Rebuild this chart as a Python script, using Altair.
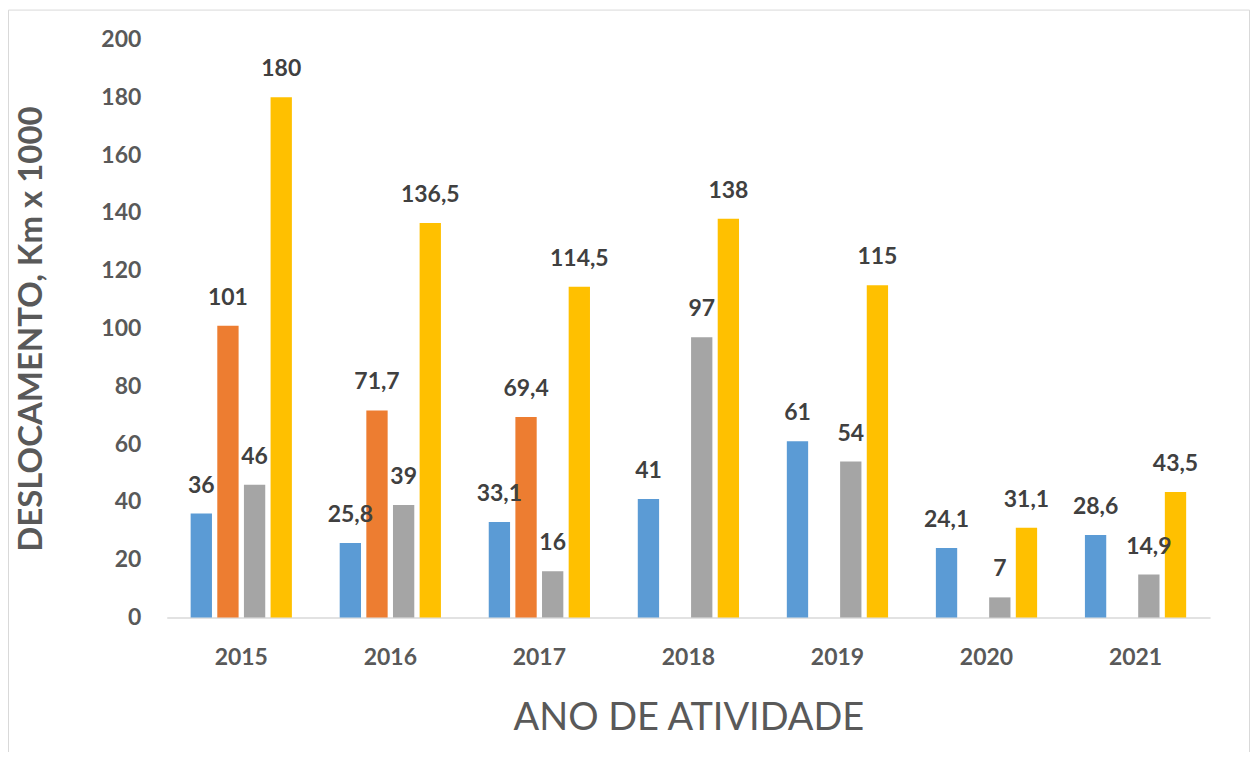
import altair as alt
import pandas as pd

years = ["2015", "2016", "2017", "2018", "2019", "2020", "2021"]
series_names = ["Série 1", "Série 2", "Série 3", "Série 4"]
s1 = [36, 25.8, 33.1, 41, 61, 24.1, 28.6]
s2 = [101, 71.7, 69.4, None, None, None, None]
s3 = [46, 39, 16, 97, 54, 7, 14.9]
s4 = [180, 136.5, 114.5, 138, 115, 31.1, 43.5]
colors = ["#5B9BD5", "#ED7D31", "#A5A5A5", "#FFC000"]

def fmt(v):
    if float(v).is_integer():
        return str(int(v))
    return str(v).replace(".", ",")

rows = []
for name, vals in zip(series_names, [s1, s2, s3, s4]):
    for y, v in zip(years, vals):
        if v is not None:
            rows.append({"ano": y, "serie": name, "valor": v, "rotulo": fmt(v)})
df = pd.DataFrame(rows)

W, H = 1045, 579
FONT = "Lato"

x_enc = alt.X("ano:N", sort=years, title="ANO DE ATIVIDADE",
              scale=alt.Scale(paddingInner=0.285, paddingOuter=0.1425),
              axis=alt.Axis(labelAngle=0, labelFont=FONT, labelFontSize=23,
                            labelFontWeight="bold", labelColor="#595959",
                            labelPadding=29, ticks=False, domainColor="#D9D9D9",
                            domainWidth=1.5, titleFont=FONT, titleFontSize=38,
                            titleFontWeight="normal", titleColor="#595959",
                            titlePadding=30))
xo_enc = alt.XOffset("serie:N", sort=series_names,
                     scale=alt.Scale(paddingInner=0.2, paddingOuter=0.1))
y_enc = alt.Y("valor:Q", title="DESLOCAMENTO, Km x 1000",
              scale=alt.Scale(domain=[0, 200], nice=False),
              axis=alt.Axis(values=list(range(0, 201, 20)), grid=False, ticks=False,
                            domain=False, labelFont=FONT, labelFontSize=23,
                            labelFontWeight="bold", labelColor="#595959",
                            labelPadding=26, titleFont=FONT, titleFontSize=33,
                            titleFontWeight="bold", titleColor="#595959",
                            titlePadding=52))

border = alt.Chart(pd.DataFrame({"a": [0]})).mark_rect(
    fill=None, stroke="#D9D9D9", strokeWidth=1
).encode(x=alt.value(-158.5), x2=alt.value(W + 39.5),
         y=alt.value(-29.5), y2=alt.value(H + 300))

bars = alt.Chart(df).mark_bar().encode(
    x=x_enc, xOffset=xo_enc, y=y_enc,
    color=alt.Color("serie:N", sort=series_names,
                    scale=alt.Scale(domain=series_names, range=colors), legend=None),
)

labels = alt.Chart(df).mark_text(
    font=FONT, fontSize=23, fontWeight="bold", color="#404040",
    baseline="middle", dy=-28
).encode(x=alt.X("ano:N", sort=years), xOffset=alt.XOffset("serie:N", sort=series_names),
         y="valor:Q", text="rotulo:N")

chart = alt.layer(border, bars, labels).properties(
    width=W, height=H, autosize="none",
    padding={"left": 159, "top": 31, "right": 40, "bottom": 134},
    background="white",
).configure_view(stroke=None)

chart.save("out.html", embed_options={"renderer": "svg", "actions": False})
